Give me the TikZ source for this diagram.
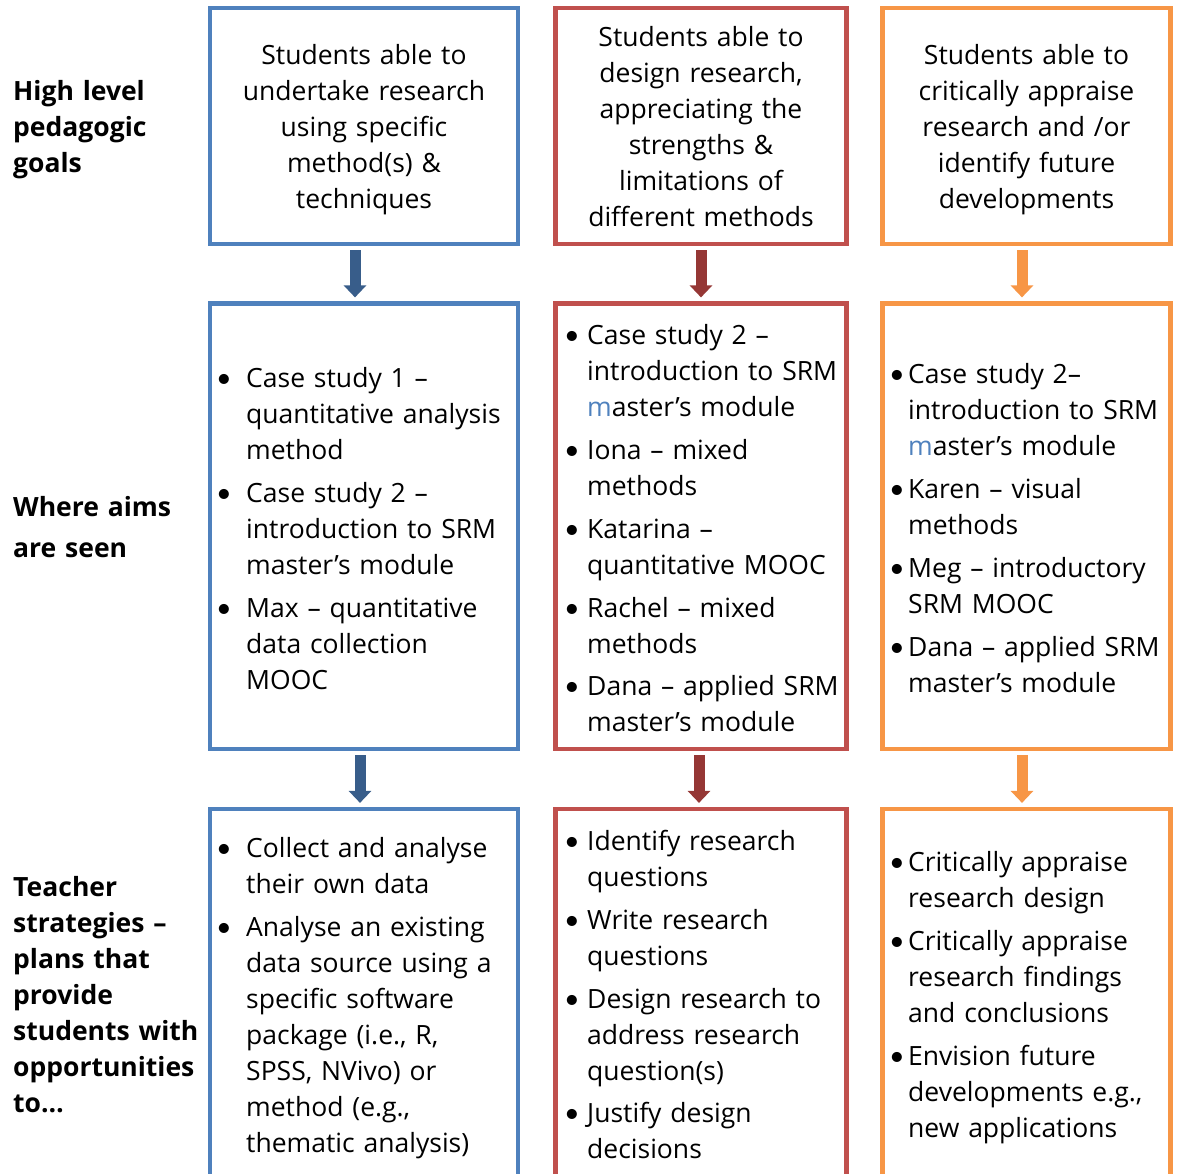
\documentclass[tikz,border=0pt]{standalone}
\usepackage{fontspec}
\setmainfont{Open Sans}
\newfontfamily\bulfont{Lato}
\usetikzlibrary{arrows.meta}
\definecolor{bluebox}{HTML}{4F81BD}
\definecolor{redbox}{HTML}{C0504D}
\definecolor{orangebox}{HTML}{F79646}
\definecolor{bluearr}{HTML}{385D8A}
\definecolor{redarr}{HTML}{953735}
\definecolor{mblue}{HTML}{4F81BD}
\newcommand\txtsize{\fontsize{26.5}{36}\selectfont}
% one bullet item: name, bullet x, text x, first baseline y, lines
\newcommand\bitem[5]{%
  \node[bul] (#1b) at (#2,#4) {•};
  \node[itm] (#1) at (#3,#4) {#5};}
\tikzset{
  box/.style={draw=#1, line width=4.2pt, rectangle, inner sep=0pt},
  goal/.style={anchor=base, align=center, text width=300pt, inner sep=0pt, font=\txtsize},
  itm/.style={anchor=base west, align=left, text width=280pt, inner sep=0pt, font=\txtsize},
  bul/.style={anchor=base, inner sep=0pt, font=\bulfont\fontsize{27}{36}\selectfont},
  lab/.style={anchor=base west, align=left, text width=190pt, inner sep=0pt, font=\txtsize\bfseries},
  blockarr/.style={draw=#1, line width=11pt, shorten <=4pt, shorten >=4pt,
    -{Triangle[width=22pt,length=12pt]}},
}
\begin{document}
\begin{tikzpicture}[x=1pt,y=-1pt]
\useasboundingbox (0,0) rectangle (1178,1173);
\clip (0,0) rectangle (1178,1173);

% row labels
\node[lab] (l1) at (13,100) {High level\\pedagogic\\goals};
\node[lab] (l2) at (13,516) {Where aims\\[5pt]are seen};
\node[lab] (l3) at (13,896) {Teacher\\strategies –\\plans that\\provide\\students with\\opportunities\\to…};

% goal boxes
\node[box=bluebox, minimum width=308pt, minimum height=236pt] (b1top) at (364,126) {};
\node[box=redbox, minimum width=291pt, minimum height=236pt] (b2top) at (701,126) {};
\node[box=orangebox, minimum width=288pt, minimum height=236pt] (b3top) at (1026.5,126) {};
\node[goal] (g1) at (364,64) {Students able to\\undertake research\\using specific\\method(s) \&\\techniques};
\node[goal] (g2) at (701,46) {Students able to\\design research,\\appreciating the\\strengths \&\\limitations of\\different methods};
\node[goal] (g3) at (1026.5,64) {Students able to\\critically appraise\\research and /or\\identify future\\developments};

% middle boxes
\node[box=bluebox, minimum width=308pt, minimum height=445.5pt] (b1mid) at (364,526.25) {};
\node[box=redbox, minimum width=291pt, minimum height=445.5pt] (b2mid) at (701,526.25) {};
\node[box=orangebox, minimum width=288pt, minimum height=445.5pt] (b3mid) at (1026.5,526.25) {};

% bottom boxes (run past the lower edge)
\node[box=bluebox, minimum width=308pt, minimum height=400pt] (b1bot) at (364,1009) {};
\node[box=redbox, minimum width=291pt, minimum height=400pt] (b2bot) at (701,1009) {};
\node[box=orangebox, minimum width=288pt, minimum height=400pt] (b3bot) at (1026.5,1009) {};

% block arrows
\draw[blockarr=bluearr] ([xshift=-9pt]b1top.south) -- ([xshift=-9pt]b1mid.north);
\draw[blockarr=bluearr] ([xshift=-4pt]b1mid.south) -- ([xshift=-4pt]b1bot.north);
\draw[blockarr=redarr] (b2top.south) -- (b2mid.north);
\draw[blockarr=redarr] ([xshift=-2pt]b2mid.south) -- ([xshift=-2pt]b2bot.north);
\draw[blockarr=orangebox] ([xshift=-4.5pt]b3top.south) -- ([xshift=-4.5pt]b3mid.north);
\draw[blockarr=orangebox] ([xshift=-4.5pt]b3mid.south) -- ([xshift=-4.5pt]b3bot.north);

% where aims are seen
\bitem{m1a}{224}{246}{387}{Case study 1 –\\quantitative analysis\\method}
\bitem{m1b}{224}{246}{502}{Case study 2 –\\introduction to SRM\\master’s module}
\bitem{m1c}{224}{246}{617}{Max – quantitative\\data collection\\MOOC}

\bitem{m2a}{572}{587}{344}{Case study 2 –\\introduction to SRM\\{\color{mblue}m}aster’s module}
\bitem{m2b}{572}{587}{459}{Iona – mixed\\methods}
\bitem{m2c}{572}{587}{538}{Katarina –\\quantitative MOOC}
\bitem{m2d}{572}{587}{617}{Rachel – mixed\\methods}
\bitem{m2e}{572}{587}{695}{Dana – applied SRM\\master’s module}

\bitem{m3a}{897}{908}{383}{Case study 2–\\introduction to SRM\\{\color{mblue}m}aster’s module}
\bitem{m3b}{897}{908}{498}{Karen – visual\\methods}
\bitem{m3c}{897}{908}{577}{Meg – introductory\\SRM MOOC}
\bitem{m3d}{897}{908}{656}{Dana – applied SRM\\master’s module}

% teacher strategies
\bitem{s1a}{224}{246}{857}{Collect and analyse\\their own data}
\bitem{s1b}{224}{246}{936}{Analyse an existing\\data source using a\\specific software\\package (i.e., R,\\SPSS, NVivo) or\\method (e.g.,\\thematic analysis)}

\bitem{s2a}{572}{587}{850}{Identify research\\questions}
\bitem{s2b}{572}{587}{929}{Write research\\questions}
\bitem{s2c}{572}{587}{1008}{Design research to\\address research\\question(s)}
\bitem{s2d}{572}{587}{1122}{Justify design\\decisions}

\bitem{s3a}{897}{908}{871}{Critically appraise\\research design}
\bitem{s3b}{897}{908}{950}{Critically appraise\\research findings\\and conclusions}
\bitem{s3c}{897}{908}{1065}{Envision future\\developments e.g.,\\new applications}
\end{tikzpicture}
\end{document}
